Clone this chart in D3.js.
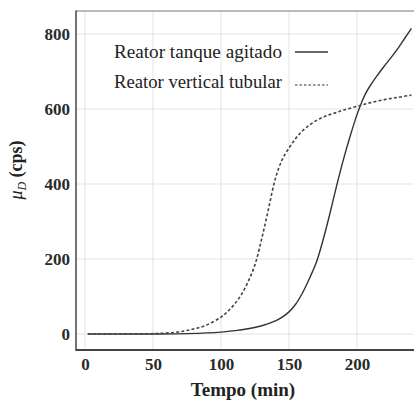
<!DOCTYPE html>
<html><head><meta charset="utf-8">
<script src="https://cdn.jsdelivr.net/npm/d3@7"></script>
<style>body{margin:0;background:#fff}svg{display:block}</style>
</head><body><svg id="c" width="414" height="401"></svg>
<script>
const seriesNames = ["Reator tanque agitado", "Reator vertical tubular"];
const tanqueT = [2, 25, 50, 75, 100, 110, 120, 130, 140, 145, 150, 155, 160, 165, 170, 175, 180, 185, 190, 195, 200, 203, 206, 210, 215, 220, 225, 230, 235, 240];
const tanqueV = [0, 0, 0, 1, 5, 9, 14, 22, 35, 45, 59, 80, 110, 148, 190, 250, 320, 395, 465, 528, 585, 614, 639, 664, 690, 714, 737, 761, 788, 815];
const tubularT = [2, 25, 50, 65, 77, 88, 100, 105, 110, 115, 120, 125, 130, 135, 140, 145, 150, 155, 160, 165, 170, 175, 180, 185, 190, 200, 210, 220, 230, 240];
const tubularV = [0, 0, 1, 4, 11, 22, 45, 60, 80, 105, 140, 185, 255, 335, 415, 465, 496, 522, 542, 557, 569, 578, 585, 591, 597, 607, 617, 625, 631, 637];
const xTicks = [0, 50, 100, 150, 200];
const yTicks = [0, 200, 400, 600, 800];

const svg = d3.select("#c");
const L = 76, R = 413, T = 11, B = 350;
const x = d3.scaleLinear().domain([0, 200]).range([85, 357]);
const y = d3.scaleLinear().domain([0, 800]).range([334, 34]);
const font = "'Liberation Serif', 'Times New Roman', serif";

// grid
svg.append("g").selectAll("line").data(xTicks).join("line")
  .attr("x1", d => x(d)).attr("x2", d => x(d)).attr("y1", T).attr("y2", B)
  .attr("stroke", "#e2e2e2").attr("stroke-width", 1);
svg.append("g").selectAll("line").data(yTicks).join("line")
  .attr("x1", L).attr("x2", R).attr("y1", d => y(d)).attr("y2", d => y(d))
  .attr("stroke", "#e2e2e2").attr("stroke-width", 1);

// frame
svg.append("line").attr("x1", L).attr("x2", 414).attr("y1", T).attr("y2", T).attr("stroke", "#777").attr("stroke-width", 1);

// axes
const xAxis = svg.append("g").attr("transform", `translate(0,${B})`)
  .call(d3.axisBottom(x).tickValues(xTicks).tickSize(0).tickPadding(8).tickFormat(d3.format("d")));
xAxis.select(".domain").remove();
const yAxis = svg.append("g").attr("transform", `translate(${L},0)`)
  .call(d3.axisLeft(y).tickValues(yTicks).tickSize(0).tickPadding(6).tickFormat(d3.format("d")));
yAxis.select(".domain").remove();
svg.selectAll(".tick text").attr("font-family", font).attr("font-size", 17).attr("font-weight", "bold").attr("fill", "#2a2a2a");

svg.append("line").attr("x1", L).attr("x2", 414).attr("y1", B).attr("y2", B).attr("stroke", "#444").attr("stroke-width", 2);
svg.append("line").attr("x1", L).attr("x2", L).attr("y1", T - 0.5).attr("y2", B + 1).attr("stroke", "#444").attr("stroke-width", 1.5);

// lines
const line = d3.line().x(d => x(d[0])).y(d => y(d[1])).curve(d3.curveCatmullRom.alpha(0.5));
const tanque = tanqueT.map((t, i) => [t, tanqueV[i]]);
const tubular = tubularT.map((t, i) => [t, tubularV[i]]);
svg.append("path").datum(tanque).attr("d", line).attr("fill", "none").attr("stroke", "#333").attr("stroke-width", 1.4);
svg.append("path").datum(tubular).attr("d", line).attr("fill", "none").attr("stroke", "#444").attr("stroke-width", 1.6).attr("stroke-dasharray", "3,2.2");

// legend
const leg = [{y: 58, ly: 52, dash: null}, {y: 88, ly: 85, dash: "2.5,2"}];
leg.forEach((l, i) => {
  svg.append("text").attr("x", 282).attr("y", l.y).attr("text-anchor", "end")
    .attr("font-family", font).attr("font-size", 19).attr("fill", "#222")
    .attr("textLength", 168).attr("lengthAdjust", "spacingAndGlyphs").text(seriesNames[i]);
  const ln = svg.append("line").attr("x1", 295).attr("x2", 328).attr("y1", l.ly).attr("y2", l.ly)
    .attr("stroke", "#333").attr("stroke-width", l.dash ? 1.2 : 1.3);
  if (l.dash) ln.attr("stroke-dasharray", l.dash);
});

// titles
svg.append("text").attr("x", 243).attr("y", 396).attr("text-anchor", "middle")
  .attr("font-family", font).attr("font-size", 19).attr("font-weight", "bold").attr("fill", "#222").text("Tempo (min)");
const yt = svg.append("text").attr("transform", "translate(22,170) rotate(-90)").attr("text-anchor", "middle")
  .attr("font-family", font).attr("font-size", 18).attr("font-weight", "bold").attr("fill", "#222");
yt.append("tspan").attr("font-style", "italic").attr("font-weight", "normal").text("μ");
yt.append("tspan").attr("font-style", "italic").attr("font-weight", "normal").attr("font-size", 12).attr("dy", 4).text("D");
yt.append("tspan").attr("dy", -4).text(" (cps)");
</script></body></html>
